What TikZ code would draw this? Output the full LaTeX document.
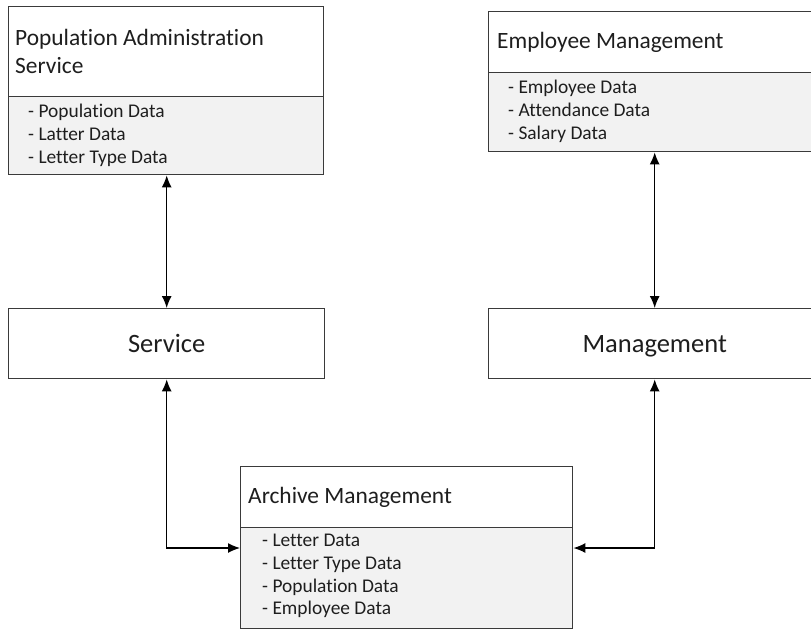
\documentclass[tikz,border=0pt]{standalone}
\usepackage{fontspec}
\setmainfont{Carlito}[Ligatures=NoCommon]
\usetikzlibrary{arrows.meta}
\definecolor{boxline}{HTML}{3A3A3A}
\definecolor{listfill}{HTML}{F2F2F2}
\definecolor{txt}{HTML}{1E1E1E}
\begin{document}
\begin{tikzpicture}[x=1pt,y=-1pt,
  boxpart/.style={draw=boxline, line width=1.4pt, rectangle, inner sep=0pt, anchor=north west},
  hdr/.style={boxpart, fill=white},
  lst/.style={boxpart, fill=listfill},
  ttl/.style={anchor=west, align=left, inner sep=0pt, font=\fontsize{23.4}{28}\selectfont, text=txt},
  items/.style={anchor=north west, align=left, inner sep=0pt, font=\fontsize{19.4}{22.7}\selectfont, text=txt},
  big/.style={font=\fontsize{26.5}{32}\selectfont, text=txt, text height=22pt, text depth=5pt},
  arr/.style={{Latex[length=12pt,width=10pt]}-{Latex[length=12pt,width=10pt]}, line width=1.3pt, black}]
\useasboundingbox (0,0) rectangle (811,630);
\clip (0,0) rectangle (811,630);
\fill[white] (0,0) rectangle (811,630);
% Population Administration Service
\node[hdr, minimum width=315pt, minimum height=90pt] (pasT) at (8,6) {};
\node[lst, minimum width=315pt, minimum height=78pt] (pasL) at (8,96) {};
\node[ttl] (pasTxt) at (15,51) {Population Administration\\Service};
\node[items] (pasItems) at (28,104) {- Population Data\\- Latter Data\\- Letter Type Data};
% Employee Management
\node[hdr, minimum width=332pt, minimum height=61pt] (emT) at (488,11) {};
\node[lst, minimum width=332pt, minimum height=79pt] (emL) at (488,72) {};
\node[ttl] (emTxt) at (497,42) {Employee Management};
\node[items] (emItems) at (508,80) {- Employee Data\\- Attendance Data\\- Salary Data};
% Service and Management
\node[hdr, minimum width=316pt, minimum height=70pt, big] (svc) at (8,308) {Service};
\node[hdr, minimum width=332pt, minimum height=70pt, big] (mgmt) at (488,308) {Management};
% Archive Management
\node[hdr, minimum width=332pt, minimum height=61pt] (arcT) at (240,466) {};
\node[lst, minimum width=332pt, minimum height=101pt] (arcL) at (240,527) {};
\node[ttl] (arcTxt) at (248,497) {Archive Management};
\node[items] (arcItems) at (262,534) {- Letter Data\\- Letter Type Data\\- Population Data\\- Employee Data};
% connectors
\draw[arr] (pasL.south -| svc.north) -- (svc.north);
\draw[arr] (emL.south) -- (mgmt.north);
\draw[arr] (svc.south) |- ([yshift=-21pt]arcL.north west);
\draw[arr] (mgmt.south) |- ([yshift=-21pt]arcL.north east);
\end{tikzpicture}
\end{document}
